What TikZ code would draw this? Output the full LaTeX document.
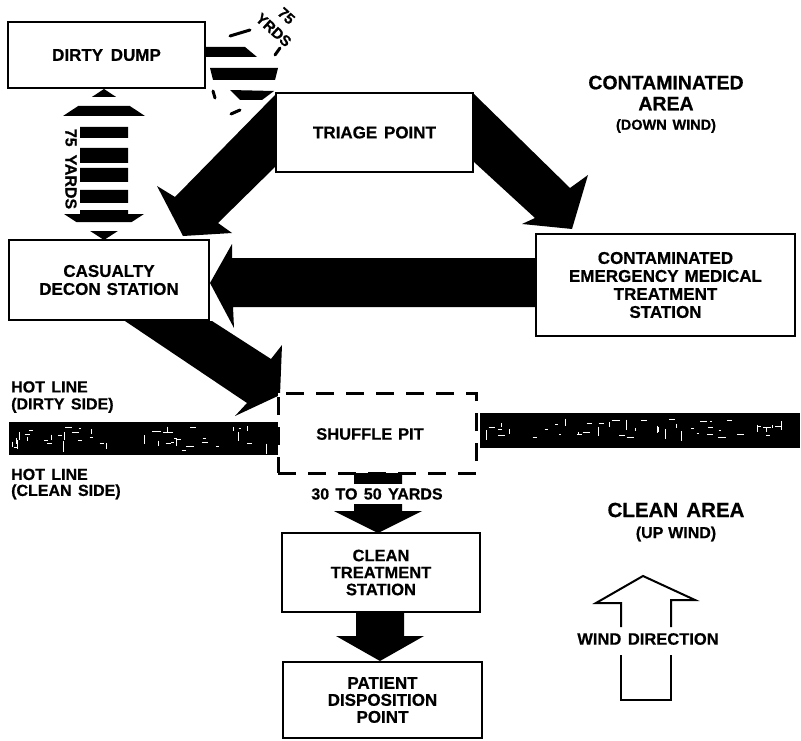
\documentclass[tikz,border=0pt]{standalone}
\usepackage{fontspec}
\setmainfont{Liberation Sans}[BoldFeatures={FakeBold=0.6}]
\newcommand{\fsz}[2]{\fontsize{#1pt}{#2pt}\selectfont\bfseries}
\begin{document}
\begin{tikzpicture}[x=1pt,y=-1pt,
  box/.style={draw, line width=1.8pt, fill=white, align=center, inner sep=0pt, font=\fsz{17}{18}},
  blk/.style={fill=black, draw=none},
  lbl/.style={align=center, inner sep=0pt},
  tickmark/.style={line width=3pt, line cap=round},
  speck/.style={white, line width=0.35pt},
]
\useasboundingbox[fill=white] (0,0) rectangle (801,741);

% ---------- hot line ----------
\fill[black] (9,422) rectangle (279,455);
\fill[black] (480,413) rectangle (800,448);
\pgfmathsetseed{11}
\foreach \i in {1,...,28} {
  \pgfmathsetmacro\xx{12+258*rnd}
  \pgfmathsetmacro\yy{426+25*rnd}
  \pgfmathsetmacro\ll{2+6*rnd}
  \draw[speck] (\xx,\yy) -- ++(\ll,0);
}
\foreach \i in {1,...,18} {
  \pgfmathsetmacro\xx{12+258*rnd}
  \pgfmathsetmacro\yy{426+18*rnd}
  \pgfmathsetmacro\ll{3+8*rnd}
  \draw[speck] (\xx,\yy) -- ++(0,\ll);
}
\foreach \i in {1,...,30} {
  \pgfmathsetmacro\xx{484+305*rnd}
  \pgfmathsetmacro\yy{417+25*rnd}
  \pgfmathsetmacro\ll{2+6*rnd}
  \draw[speck] (\xx,\yy) -- ++(\ll,0);
}
\foreach \i in {1,...,18} {
  \pgfmathsetmacro\xx{484+305*rnd}
  \pgfmathsetmacro\yy{417+18*rnd}
  \pgfmathsetmacro\ll{3+8*rnd}
  \draw[speck] (\xx,\yy) -- ++(0,\ll);
}

% ---------- big black arrows ----------
\fill[blk] (276,94) -- (175,197) -- (157,186) -- (183,236) -- (232,233) -- (218,223) -- (277,165) -- cycle;
\fill[blk] (473,93) -- (570,188) -- (588,175) -- (572,229) -- (522,224) -- (535,218) -- (474,162) -- cycle;
\fill[blk] (537,258) -- (232,258) -- (232,244) -- (210,283) -- (234,328) -- (233,307) -- (537,307) -- cycle;
\fill[blk] (125,321) -- (247,403) -- (235,416) -- (280,395) -- (282,345) -- (271,359) -- (212,321) -- cycle;
\fill[blk] (354,470) -- (402,470) -- (402,511) -- (422,511) -- (378,533) -- (334,511) -- (354,511) -- cycle;
\fill[blk] (356,612) -- (404,612) -- (404,636) -- (424,636) -- (380,661) -- (336,636) -- (356,636) -- cycle;

% ---------- broken 75 yards arrows ----------
\begin{scope}
  \clip (0,88) rectangle (200,97) (0,106) rectangle (200,116) (0,127) rectangle (200,138)
        (0,148) rectangle (200,163) (0,168) rectangle (200,182) (0,190) rectangle (200,203)
        (0,210) rectangle (200,222) (0,231) rectangle (200,241);
  \fill[blk] (104,89) -- (145,116) -- (128,116) -- (128,214) -- (144,214) -- (104,240)
     -- (64,214) -- (80,214) -- (80,116) -- (63,116) -- cycle;
\end{scope}
\fill[blk] (205,47) -- (245,47) -- (257,57) -- (205,57) -- cycle;
\fill[blk] (210,68) -- (278,68) -- (275,80) -- (213,80) -- cycle;
\fill[blk] (230,90) -- (274,91) -- (262,100) -- (240,100) -- cycle;
\draw[tickmark] (230,36) -- (250,30);
\draw[tickmark] (275,55) -- (280,48);
\draw[tickmark] (213,91) -- (215,98);
\draw[tickmark] (231,114) -- (240,110);

\node[lbl, rotate=-90, font=\fsz{16}{18}] (y75v) at (71,169) {75\hspace{0.5em}YARDS};
\node[lbl, rotate=-42, font=\fsz{15}{19}] (y75d) at (280,23) {75\\YRDS};

% ---------- boxes ----------
\node[box, minimum width=197pt, minimum height=66pt] (dd) at (106.5,55) {DIRTY\hspace{0.45em}DUMP};
\node[box, minimum width=197pt, minimum height=79pt] (tp) at (374.5,132.5) {TRIAGE\hspace{0.4em}POINT};
\node[box, minimum width=200pt, minimum height=80pt] (cd) at (109,280) {CASUALTY\\DECON\hspace{0.35em}STATION};
\node[box, minimum width=259pt, minimum height=102pt] (emt) at (665.5,285) {CONTAMINATED\\EMERGENCY\hspace{0.35em}MEDICAL\\TREATMENT\\STATION};
\node[box, minimum width=198pt, minimum height=79pt, font=\fsz{16.5}{17}] (cts) at (381,572.5) {CLEAN\\TREATMENT\\STATION};
\node[box, minimum width=199pt, minimum height=76pt, font=\fsz{17}{17}] (pdp) at (382.5,700) {PATIENT\\DISPOSITION\\POINT};

\node[draw, line width=3pt, dash pattern=on 18pt off 12pt, fill=white, minimum width=198pt, minimum height=80pt, inner sep=0pt] (sp) at (377,433) {};
\node[lbl, font=\fsz{16.5}{18}] (spt) at (370,434) {SHUFFLE\hspace{0.35em}PIT};

\node[lbl, fill=white, inner sep=4pt, font=\fsz{16}{18}] (dist) at (377,494) {30\hspace{0.4em}TO\hspace{0.4em}50\hspace{0.4em}YARDS};

% ---------- area labels ----------
\node[lbl, font=\fsz{19.5}{21}] (ca) at (666,93) {CONTAMINATED\\AREA};
\node[lbl, font=\fsz{14.5}{16}] (cadw) at (666,126) {(DOWN\hspace{0.4em}WIND)};
\node[lbl, font=\fsz{20.5}{22}] (cla) at (676,510) {CLEAN\hspace{0.4em}AREA};
\node[lbl, font=\fsz{16}{18}] (clup) at (676,534) {(UP\hspace{0.3em}WIND)};

\node[lbl, anchor=west, align=left, font=\fsz{16}{17}] (hld) at (11,397) {HOT\hspace{0.4em}LINE\\(DIRTY\hspace{0.4em}SIDE)};
\node[lbl, anchor=west, align=left, font=\fsz{16}{16}] (hlc) at (11,484) {HOT\hspace{0.4em}LINE\\(CLEAN\hspace{0.4em}SIDE)};

% ---------- wind direction arrow ----------
\draw[line width=2pt, line join=miter] (621,627) -- (621,603) -- (596,603) -- (643,576) -- (695,600) -- (671,600) -- (671,627);
\draw[line width=2pt, line join=miter] (621,655) -- (621,700) -- (671,700) -- (671,655);
\node[lbl, font=\fsz{16.5}{18}] (wd) at (648,639) {WIND\hspace{0.4em}DIRECTION};
\end{tikzpicture}
\end{document}
